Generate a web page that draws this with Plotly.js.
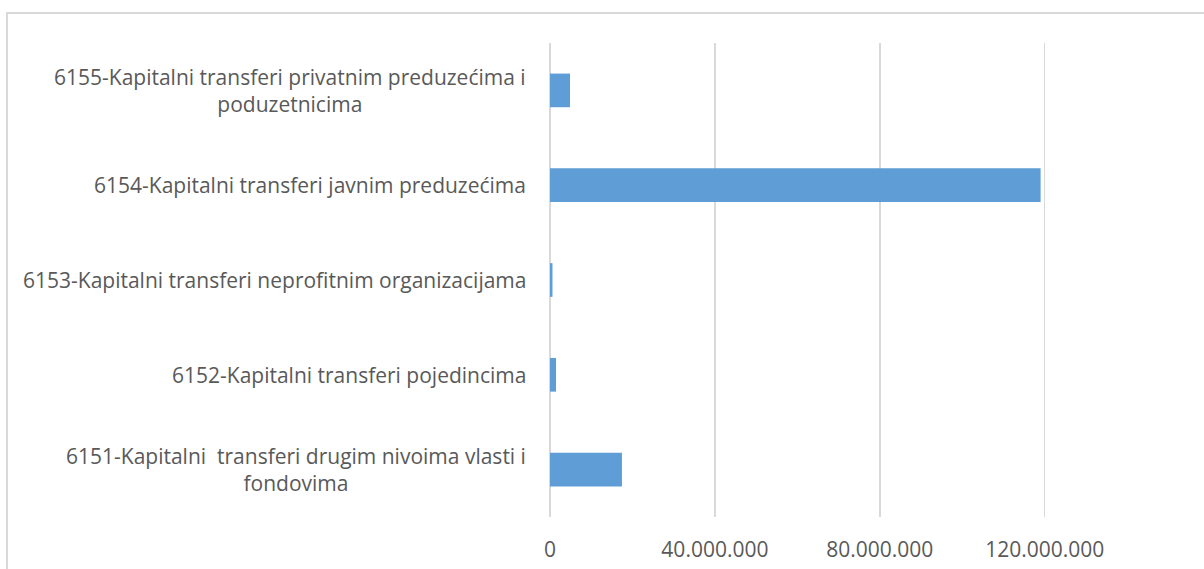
<!DOCTYPE html>
<html>
<head>
<meta charset="utf-8">
<script src="https://cdn.plot.ly/plotly-3.0.1.min.js"></script>
<style>
  html, body { margin: 0; padding: 0; background: #ffffff; overflow: hidden; }
  #frame { position: absolute; left: 6px; top: 12px; width: 1400px; height: 800px;
           border-left: 2px solid #d9d9d9; border-top: 2px solid #d9d9d9; box-sizing: border-box; }
  #chart { position: absolute; left: 0; top: 0; width: 1204px; height: 569px; }
</style>
</head>
<body>
<div id="frame"></div>
<div id="chart"></div>
<script>
// Categories (bottom to top, as drawn)
const categories = [
  "6151-Kapitalni  transferi drugim nivoima vlasti i<br>fondovima",
  "6152-Kapitalni transferi pojedincima",
  "6153-Kapitalni transferi neprofitnim organizacijama",
  "6154-Kapitalni transferi javnim preduzećima",
  "6155-Kapitalni transferi privatnim preduzećima i<br>poduzetnicima"
];
const values = [17450000, 1450000, 600000, 119000000, 4850000];
const tickValues = [0, 40000000, 80000000, 120000000];
const tickLabels = ["0", "40.000.000", "80.000.000", "120.000.000"];

const textColor = "#595959";
const fontFamily = "'Open Sans', 'Noto Sans', sans-serif";

const trace = {
  type: "bar",
  orientation: "h",
  y: categories,
  x: values,
  marker: { color: "#5E9DD6", line: { width: 0 } },
  hoverinfo: "none"
};

const annotations = categories.map((c) => ({
  xref: "paper", yref: "y",
  x: 0, y: c,
  xanchor: "right", yanchor: "middle",
  xshift: -22,
  align: "center",
  showarrow: false,
  text: c,
  font: { family: fontFamily, size: 21, color: textColor }
}));

const layout = {
  width: 1204,
  height: 569,
  margin: { l: 550, r: 2, t: 43, b: 52, pad: 0 },
  paper_bgcolor: "rgba(0,0,0,0)",
  plot_bgcolor: "rgba(0,0,0,0)",
  bargap: 0.645,
  showlegend: false,
  xaxis: {
    range: [0, 158150000],
    tickvals: tickValues,
    ticktext: tickLabels,
    showgrid: true,
    gridcolor: "#d9d9d9",
    gridwidth: 1.5,
    zeroline: true,
    zerolinecolor: "#d9d9d9",
    zerolinewidth: 2,
    showline: false,
    ticks: "",
    ticklabelstandoff: 18,
    tickfont: { family: fontFamily, size: 21, color: textColor },
    fixedrange: true
  },
  yaxis: {
    type: "category",
    categoryorder: "array",
    categoryarray: categories,
    range: [-0.5, 4.5],
    showticklabels: false,
    showgrid: false,
    zeroline: false,
    showline: false,
    ticks: "",
    fixedrange: true
  },
  annotations: annotations,
  font: { family: fontFamily, color: textColor }
};

Plotly.newPlot("chart", [trace], layout, { displayModeBar: false, staticPlot: true });
</script>
</body>
</html>
